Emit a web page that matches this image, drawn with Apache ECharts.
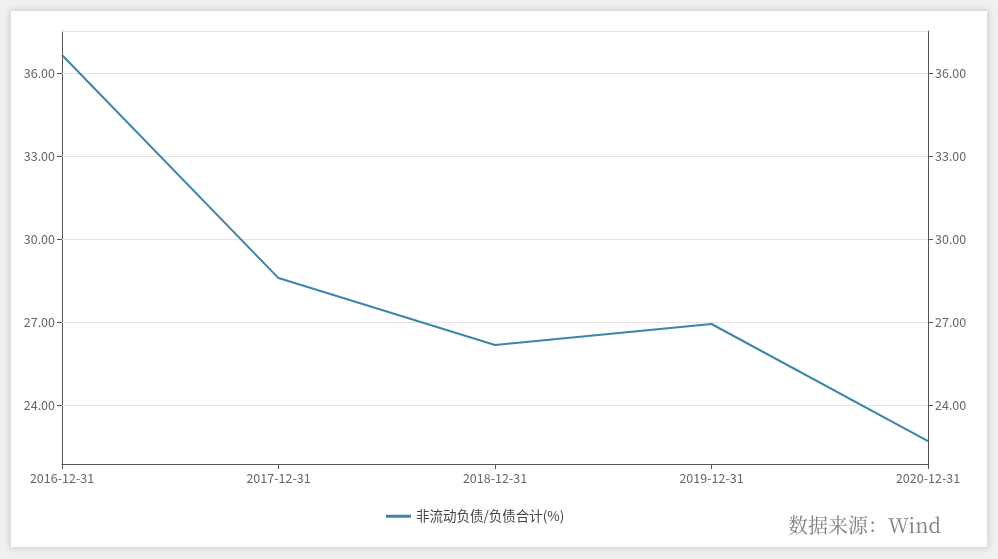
<!DOCTYPE html>
<html><head><meta charset="utf-8">
<script src="https://cdn.jsdelivr.net/npm/echarts@6/dist/echarts.min.js"></script>
<style>
html,body{margin:0;padding:0;background:#f0f0f0;width:998px;height:559px;overflow:hidden}
#card{position:absolute;left:11px;top:11px;width:976px;height:536px;background:#fff;box-shadow:0 0 6px 2px rgba(0,0,0,0.12)}
#main{position:absolute;left:0;top:0;width:998px;height:559px}
</style></head>
<body>
<div id="card"></div>
<div id="main"></div>
<script>
const categories = ['2016-12-31','2017-12-31','2018-12-31','2019-12-31','2020-12-31'];
const seriesName = '非流动负债/负债合计(%)';
const values = [36.65, 28.59, 26.17, 26.93, 22.70];
const yTicks = [24, 27, 30, 33, 36];
const yMin = 21.87, yMax = 37.52;

const chart = echarts.init(document.getElementById('main'), null, {renderer:'canvas'});
const font = '"Noto Sans CJK SC", "Noto Sans", sans-serif';
const yAxisCommon = {
  type:'value', min:yMin, max:yMax,
  axisLine:{show:true, lineStyle:{color:'#555', width:1}},
  axisTick:{show:true, length:5, customValues:yTicks, lineStyle:{color:'#555'}},
  axisLabel:{color:'#666', fontSize:12.5, fontFamily:font, customValues:yTicks,
    formatter:v=>v.toFixed(2), margin:7},
  splitLine:{show:false}
};
const gridLines = yTicks.concat([yMax]).map(v => ({yAxis:v}));
chart.setOption({
  backgroundColor:'transparent',
  animation:false,
  grid:{left:62, right:70, top:31, bottom:95, containLabel:false},
  legend:{bottom:31, left:381, data:[seriesName], itemWidth:25, itemHeight:3, itemGap:6,
    icon:'rect', textStyle:{color:'#444', fontSize:13.5, fontFamily:font}},
  xAxis:{type:'category', data:categories, boundaryGap:false,
    axisLine:{lineStyle:{color:'#555'}},
    axisTick:{show:true, length:5, alignWithLabel:true, lineStyle:{color:'#555'}},
    axisLabel:{color:'#666', fontSize:12.5, fontFamily:font, margin:8, showMinLabel:true, showMaxLabel:true, interval:0}},
  yAxis:[
    Object.assign({}, yAxisCommon, {position:'left'}),
    Object.assign({}, yAxisCommon, {position:'right'})
  ],
  series:[{name:seriesName, type:'line', data:values, yAxisIndex:0, showSymbol:false, symbol:'none',
    lineStyle:{color:'#3a86a8', width:2}, itemStyle:{color:'#3a86a8'}, z:3,
    markLine:{silent:true, symbol:['none','none'], label:{show:false}, animation:false,
      lineStyle:{color:'#e3e3e3', type:'solid', width:1}, emphasis:{disabled:true}, data:gridLines, z:1}}],
  graphic:[{type:'text', right:57, bottom:24, style:{text:'数据来源：Wind', fill:'#7f7f7f', fontSize:20,
    fontFamily:'"Noto Serif CJK SC", "Liberation Serif", "DejaVu Serif", serif'}}]
});
</script>
</body></html>
